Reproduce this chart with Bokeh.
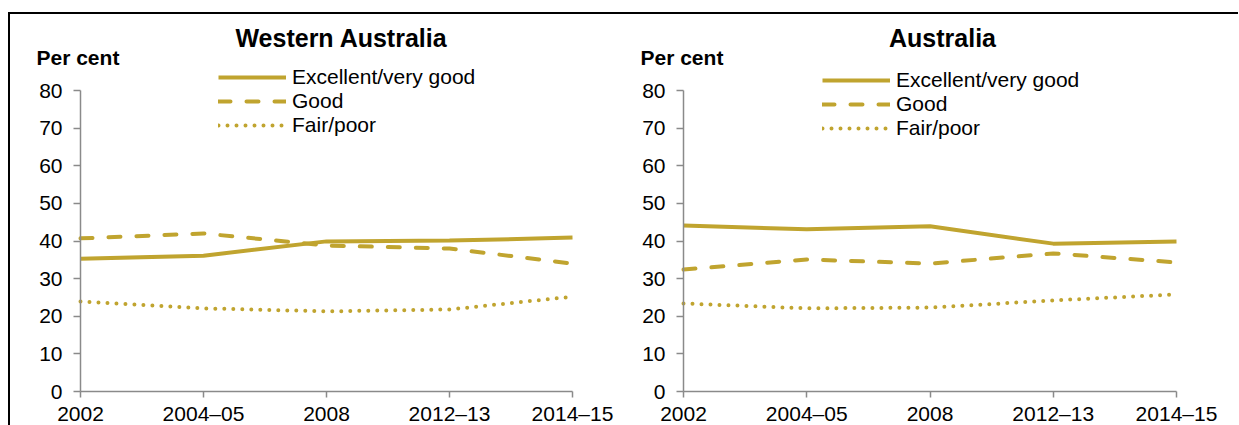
from bokeh.plotting import figure
from bokeh.models import Range1d, FixedTicker, Legend, LegendItem, Label
from bokeh.layouts import row
from bokeh.embed import file_html
from bokeh.resources import INLINE

periods = ["2002", "2004\u201305", "2008", "2012\u201313", "2014\u201315"]
series_names = ["Excellent/very good", "Good", "Fair/poor"]

wa_excellent = [35.3, 36.1, 39.9, 40.1, 40.9]
wa_good = [40.7, 42.0, 38.8, 38.0, 34.0]
wa_fair = [23.9, 22.1, 21.3, 21.8, 25.2]

aus_excellent = [44.1, 43.1, 43.9, 39.3, 39.9]
aus_good = [32.4, 35.1, 34.0, 36.7, 34.3]
aus_fair = [23.4, 22.1, 22.3, 24.2, 25.8]

GOLD = "#C0A42F"
AXIS = "#8A8A8A"
FONT = "Liberation Sans"
styles_ = [dict(line_width=4, line_dash="solid", line_cap="butt"),
           dict(line_width=4, line_dash="12 16", line_cap="round"),
           dict(line_width=4, line_dash="0 9", line_cap="round")]

H = 411          # canvas height (page y 14 .. 425)
Y0_PX = 377      # canvas y of value 0
Y80_PX = 76      # canvas y of value 80
PPU_Y = (Y0_PX - Y80_PX) / 80.0


def make_panel(title, data, width, ax_px, end_px, leg_x, leg_y, title_px, pc_px):
    n = len(periods) - 1
    ppu_x = (end_px - ax_px) / n
    x_lo = -ax_px / ppu_x
    x_hi = n + (width - end_px) / ppu_x
    y_lo = -(H - Y0_PX) / PPU_Y
    y_hi = 80 + Y80_PX / PPU_Y

    def dx(px):
        return (px - ax_px) / ppu_x

    def dy(py):
        return (Y0_PX - py) / PPU_Y

    p = figure(width=width, height=H, output_backend="svg", toolbar_location=None,
               title=None, x_range=Range1d(x_lo, x_hi), y_range=Range1d(y_lo, y_hi),
               min_border=0)
    p.outline_line_color = None
    p.grid.visible = False
    xs = list(range(len(periods)))
    items = []
    for name, vals, st in zip(series_names, data, styles_):
        r = p.line(xs, vals, line_color=GOLD, **st)
        items.append(LegendItem(label=name, renderers=[r]))
    leg = Legend(items=items, location=(leg_x, leg_y), glyph_width=68, glyph_height=24,
                 label_height=24, spacing=0, padding=0, margin=0, label_standoff=6,
                 label_text_font=FONT, label_text_font_size="21px", label_text_color="black",
                 background_fill_alpha=0, border_line_alpha=0)
    p.add_layout(leg, "center")

    for ax in (p.xaxis[0], p.yaxis[0]):
        ax.axis_line_color = AXIS
        ax.axis_line_width = 1.5
        ax.major_tick_line_color = AXIS
        ax.major_tick_line_width = 1.5
        ax.minor_tick_line_color = None
        ax.major_tick_in = 0
        ax.major_label_text_font = FONT
        ax.major_label_text_font_size = "21px"
        ax.major_label_text_color = "black"
        ax.fixed_location = 0
    p.xaxis.ticker = FixedTicker(ticks=xs)
    p.xaxis.major_label_overrides = {i: lab for i, lab in enumerate(periods)}
    p.xaxis.bounds = (0, n)
    p.xaxis.major_tick_out = 6
    p.xaxis.major_label_standoff = 4
    p.yaxis.ticker = FixedTicker(ticks=list(range(0, 81, 10)))
    p.yaxis.bounds = (0, 80)
    p.yaxis.major_tick_out = 7
    p.yaxis.major_label_standoff = 11

    p.add_layout(Label(x=dx(title_px[0]), y=dy(title_px[1]), text=title,
                       text_align="center", text_baseline="middle", text_font=FONT,
                       text_font_size="25px", text_font_style="bold", text_color="black"))
    p.add_layout(Label(x=dx(pc_px[0]), y=dy(pc_px[1]), text="Per cent",
                       text_align="left", text_baseline="middle", text_font=FONT,
                       text_font_size="21px", text_font_style="bold", text_color="black"))
    return p


p1 = make_panel("Western Australia", [wa_excellent, wa_good, wa_fair], 615, 70, 562,
                208, 288, (331, 23), (26, 43))
p2 = make_panel("Australia", [aus_excellent, aus_good, aus_fair], 613, 58, 551,
                197, 285, (317, 23), (15, 43))

layout = row(p1, p2, styles={"border-top": "2px solid black", "border-left": "2px solid black",
                             "margin-top": "12px", "margin-left": "8px",
                             "margin-bottom": "-12px"})

open("out.html", "w").write(file_html(layout, INLINE))
